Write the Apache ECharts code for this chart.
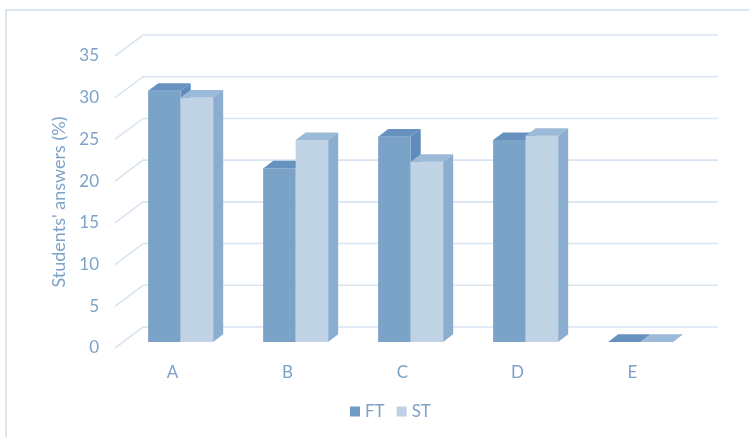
<!DOCTYPE html>
<html>
<head>
<meta charset="utf-8">
<script src="https://cdn.jsdelivr.net/npm/echarts@6/dist/echarts.min.js"></script>
<style>
  html, body { margin: 0; padding: 0; background: #fff; }
  #chart { width: 749px; height: 437px; }
</style>
</head>
<body>
<div id="chart"></div>
<script>
// Answer options and share of students choosing each one (%)
const categories = ['A', 'B', 'C', 'D', 'E'];
const ftValues = [30.1, 20.8, 24.6, 24.2, 0];
const stValues = [29.3, 24.2, 21.6, 24.7, 0];
const yTicks = [0, 5, 10, 15, 20, 25, 30, 35];

// Oblique 3D projection: full depth of the chart box, and where the bars sit inside it
const DEPTH_X = 28, DEPTH_Y = -21;
const BAR_FRONT = 0.29, BAR_DEPTH = 0.36;
const GROUP_SHARE = 0.565; // part of a category band taken by the two bars

const palette = {
  FT: { front: '#7BA3C8', top: '#6792C0', side: '#5F8CBB', legend: '#6F9BC6' },
  ST: { front: '#C0D3E4', top: '#9BBAD7', side: '#8BAED0', legend: '#BDD0E4' }
};
const textColor = '#7DA2C9';
const wallColor = '#D9E5F2';

const chart = echarts.init(document.getElementById('chart'));

function barRenderer(colors, slot) {
  return function (params, api) {
    const cs = params.coordSys;
    const idx = api.value(0);
    const val = api.value(1);
    const band = cs.width / categories.length;
    const groupW = band * GROUP_SHARE;
    const barW = groupW / 2;
    const center = api.coord([idx, 0])[0];
    const ox = BAR_FRONT * DEPTH_X, oy = BAR_FRONT * DEPTH_Y;
    const dx = BAR_DEPTH * DEPTH_X, dy = BAR_DEPTH * DEPTH_Y;
    const x0 = center - groupW / 2 + slot * barW + ox;
    const x1 = x0 + barW;
    const yb = api.coord([idx, 0])[1] + oy;
    const yt = api.coord([idx, val])[1] + oy;
    const children = [];
    if (yb - yt > 0.5) {
      children.push({
        type: 'polygon',
        shape: { points: [[x1, yb], [x1 + dx, yb + dy], [x1 + dx, yt + dy], [x1, yt]] },
        style: { fill: colors.side }
      });
      children.push({
        type: 'rect',
        shape: { x: x0, y: yt, width: barW, height: yb - yt },
        style: { fill: colors.front }
      });
    }
    children.push({
      type: 'polygon',
      shape: { points: [[x0, yt], [x1, yt], [x1 + dx, yt + dy], [x0 + dx, yt + dy]] },
      style: { fill: colors.top }
    });
    return { type: 'group', children: children };
  };
}

function wallRenderer(params, api) {
  const cs = params.coordSys;
  const y = api.coord([0, api.value(0)])[1];
  const x = cs.x;
  return {
    type: 'polyline',
    shape: { points: [[x, y], [x + DEPTH_X, y + DEPTH_Y], [x + cs.width + DEPTH_X, y + DEPTH_Y]] },
    style: { stroke: wallColor, lineWidth: 1.6, fill: null }
  };
}

chart.setOption({
  animation: false,
  backgroundColor: '#ffffff',
  textStyle: { fontFamily: 'Lato, "Open Sans", sans-serif' },
  graphic: [{
    type: 'polyline',
    shape: { points: [[6, 437], [6, 10], [749, 10]] },
    style: { stroke: '#DCE6F1', lineWidth: 2, fill: null },
    silent: true
  }],
  grid: { left: 115, right: 59, top: 56, bottom: 89 },
  legend: {
    bottom: 12,
    left: 345,
    icon: 'rect',
    itemWidth: 10,
    itemHeight: 10,
    itemGap: 12,
    textStyle: { color: textColor, fontSize: 17, fontFamily: 'Lato, sans-serif' },
    data: ['FT', 'ST']
  },
  xAxis: {
    type: 'category',
    data: categories,
    axisLine: { show: false },
    axisTick: { show: false },
    axisLabel: { color: textColor, fontSize: 17, margin: 16 },
    splitLine: { show: false }
  },
  yAxis: {
    type: 'value',
    min: 0,
    max: 35,
    interval: 5,
    name: "Students' answers (%)",
    nameLocation: 'middle',
    nameGap: 41,
    nameRotate: 90,
    nameTextStyle: { color: textColor, fontSize: 18 },
    axisLine: { show: false },
    axisTick: { show: false },
    axisLabel: { color: textColor, fontSize: 17, margin: 16 },
    splitLine: { show: false }
  },
  series: [
    {
      type: 'custom',
      name: 'wall',
      silent: true,
      z: 1,
      data: yTicks.map(v => [v]),
      encode: { y: 0 },
      renderItem: wallRenderer
    },
    {
      type: 'custom',
      name: 'FT',
      z: 2,
      itemStyle: { color: palette.FT.legend },
      data: ftValues.map((v, i) => [i, v]),
      encode: { x: 0, y: 1 },
      renderItem: barRenderer(palette.FT, 0)
    },
    {
      type: 'custom',
      name: 'ST',
      z: 3,
      itemStyle: { color: palette.ST.legend },
      data: stValues.map((v, i) => [i, v]),
      encode: { x: 0, y: 1 },
      renderItem: barRenderer(palette.ST, 1)
    }
  ]
});
</script>
</body>
</html>
